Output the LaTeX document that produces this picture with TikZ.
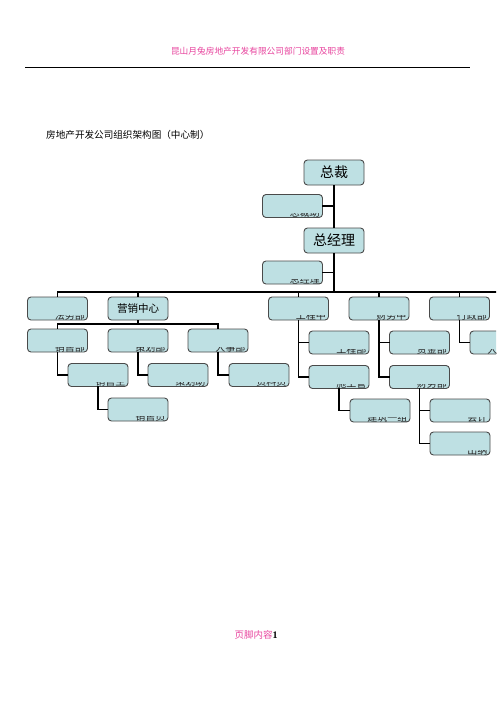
\documentclass[tikz,border=0pt]{standalone}
\usepackage{fontspec}
\setmainfont{Liberation Serif}
\newfontfamily\cjk{Noto Sans CJK SC}
\definecolor{pinkt}{HTML}{E8449E}
\definecolor{boxfill}{HTML}{BEE0E3}
\definecolor{boxline}{HTML}{4A4A4A}
\newcommand\mkbox[4]{%
  \node[box] (#1) at (#2,#3) {};
  \begin{scope}
    \clip ([shift={(2,-4.6)}]#1.south west) rectangle ([shift={(-1,-0.8)}]#1.south east);
    \node[lab, anchor=base east] (#1t) at ([shift={(-3,-1.4)}]#1.south east) {#4};
  \end{scope}}
\begin{document}
\begin{tikzpicture}[x=1pt,y=-1pt,
  box/.style={draw=boxline, fill=boxfill, rounded corners=3.5pt, line width=0.9pt,
    minimum width=60pt, minimum height=23pt, inner sep=0pt},
  bigbox/.style={box, minimum height=25pt, font=\cjk\fontsize{14}{14}\selectfont},
  lab/.style={inner sep=0pt, font=\cjk\fontsize{10}{10}\selectfont, text=black!85},
  conn/.style={line width=1.8pt, black, line cap=rect},
  pinktext/.style={text=pinkt, inner sep=0pt, font=\cjk\fontsize{8.7}{9}\selectfont}]
\useasboundingbox (0,0) rectangle (496,702);
\clip (0,0) rectangle (496,702);
\fill[white] (0,0) rectangle (496,702);
% header
\node[pinktext] (head) at (258,51) {昆山月兔房地产开发有限公司部门设置及职责};
\coordinate (hl) at (25,67);
\coordinate (hr) at (470,67);
\draw[line width=0.9pt] (hl) -- (hr);
\node[anchor=west, inner sep=0pt, font=\cjk\fontsize{9.6}{10}\selectfont] (title) at (46,135) {房地产开发公司组织架构图（中心制）};
% footer
\node[inner sep=0pt] (foot) at (256,635) {{\color{pinkt}\cjk\fontsize{9.5}{10}\selectfont 页脚内容}{\bfseries\fontsize{10}{10}\selectfont 1}};
% top
\node[bigbox] (zc) at (334,172.5) {总裁};
\node[bigbox] (zj) at (334,240.5) {总经理};
\mkbox{zcz}{292.5}{206}{总裁助}
\mkbox{zjz}{292.5}{272.5}{总经理}
\coordinate (bus) at (334,292);
\coordinate (busR) at (500,292);
\draw[conn] (zc.south) -- (zj.north);
\draw[conn] (zcz.east) -- (zcz.east -| zc.south);
\draw[conn] (zjz.east) -- (zjz.east -| zj.south);
% level 1
\mkbox{fw}{57.5}{308.5}{法务部}
\node[box, font=\cjk\fontsize{10.5}{11}\selectfont] (yx) at (138,308.5) {营销中心};
\mkbox{gc}{298.5}{308.5}{工程中}
\mkbox{cw}{379}{308.5}{财务中}
\mkbox{xz}{459.5}{308.5}{行政部}
\draw[conn] (zj.south) -- (bus) -| (fw.north);
\draw[conn] (bus) -| (yx.north);
\draw[conn] (bus) -| (gc.north);
\draw[conn] (bus) -| (cw.north);
\draw[conn] (bus) -| (xz.north);
\draw[conn] (bus) -- (busR);
% marketing
\mkbox{xs}{57.5}{340.5}{销售部}
\mkbox{ch}{138}{340.5}{策划部}
\mkbox{rs}{218}{340.5}{人事部}
\coordinate (ybus) at (138,324);
\draw[conn] (yx.south) -- (ybus) -| (xs.north);
\draw[conn] (ybus) -| (rs.north);
\mkbox{xsz}{98}{375}{销售主}
\mkbox{chz}{178}{375}{策划助}
\mkbox{zly}{259}{375}{资料员}
\mkbox{xsy}{138}{409.5}{销售员}
\draw[conn] (xs.south) |- (xsz.west);
\draw[conn] (ch.south) |- (chz.west);
\draw[conn] (rs.south) |- (zly.west);
\draw[conn] (xsz.south) |- (xsy.west);
% engineering
\mkbox{gcb}{339}{342.5}{工程部}
\mkbox{sg}{339}{377}{施工管}
\mkbox{jz}{380}{410.5}{建筑一组}
\draw[conn] (gc.south) |- (sg.west);
\draw[conn] (gc.south) |- (gcb.west);
\draw[conn] (sg.south) |- (jz.west);
% finance
\mkbox{zjb}{419.5}{342.5}{资金部}
\mkbox{cwb}{419.5}{377}{财务部}
\mkbox{kj}{460}{410.5}{会计}
\mkbox{cn}{460}{443.5}{出纳}
\draw[conn] (cw.south) |- (cwb.west);
\draw[conn] (cw.south) |- (zjb.west);
\draw[conn] (cwb.south) |- (cn.west);
\draw[conn] (cwb.south) |- (kj.west);
% admin
\mkbox{rl}{500}{342.5}{人力资源}
\draw[conn] (xz.south) |- (rl.west);
\end{tikzpicture}
\end{document}
